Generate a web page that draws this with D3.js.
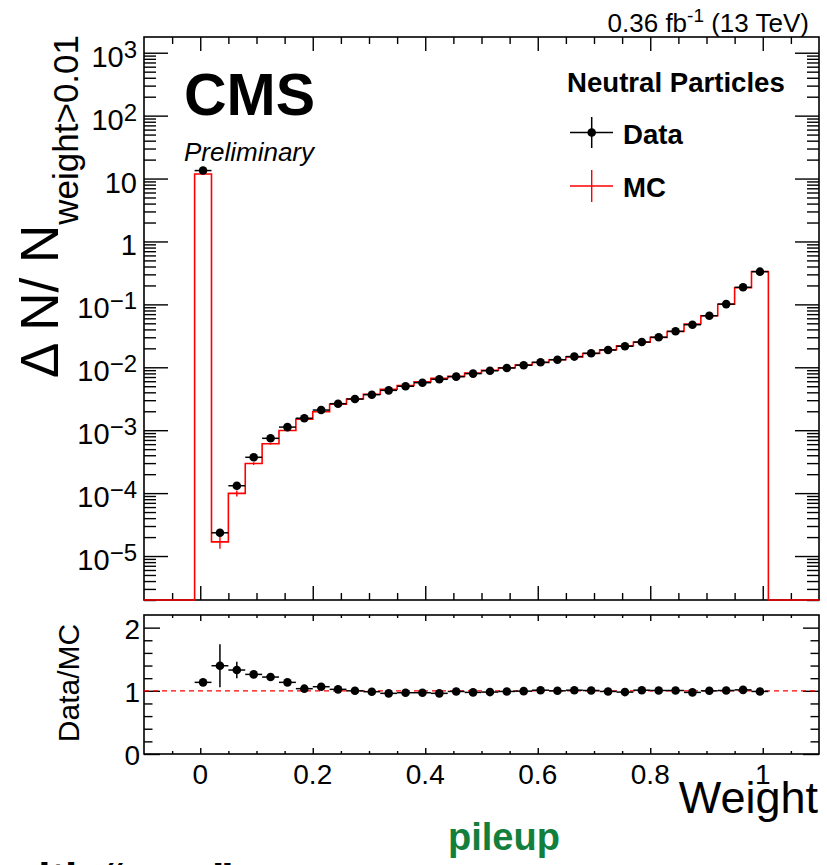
<!DOCTYPE html>
<html><head><meta charset="utf-8">
<script src="https://cdn.jsdelivr.net/npm/d3@7"></script>
<style>
body{margin:0;background:#fff}
svg{display:block}
text{font-family:"Liberation Sans",Arial,Helvetica,sans-serif}
</style>
</head><body><div id="chart"></div>
<script>
// ---------------- data ----------------
const binCenters = [0.005,0.035,0.065,0.095,0.125,0.155,0.185,0.215,0.245,0.275,0.305,0.335,0.365,0.395,0.425,0.455,0.485,0.515,0.545,0.575,0.605,0.635,0.665,0.695,0.725,0.755,0.785,0.815,0.845,0.875,0.905,0.935,0.965,0.995];
const binWidth = 0.03;
const dataVals = [13.4,2.34e-5,1.31e-4,3.71e-4,7.43e-4,1.12e-3,1.55e-3,2.09e-3,2.64e-3,3.13e-3,3.67e-3,4.30e-3,4.99e-3,5.69e-3,6.44e-3,7.10e-3,7.93e-3,8.80e-3,9.75e-3,1.08e-2,1.20e-2,1.32e-2,1.48e-2,1.67e-2,1.88e-2,2.16e-2,2.52e-2,3.00e-2,3.73e-2,4.75e-2,6.60e-2,0.101,0.187,0.331];
const dataErrRel = [0.003,0.10,0.04,0.02,0.015,0.01,0.01,0.01,0.008,0.008,0.006,0.006,0.006,0.005,0.005,0.005,0.005,0.005,0.005,0.005,0.005,0.005,0.005,0.005,0.005,0.005,0.005,0.005,0.005,0.005,0.005,0.005,0.005,0.005];
const mcVals = [11.8,1.68e-5,9.9e-5,2.95e-4,6.1e-4,9.9e-4,1.50e-3,1.96e-3,2.58e-3,3.13e-3,3.72e-3,4.48e-3,5.14e-3,5.87e-3,6.71e-3,7.17e-3,8.13e-3,8.98e-3,9.85e-3,1.085e-2,1.19e-2,1.32e-2,1.465e-2,1.66e-2,1.90e-2,2.20e-2,2.50e-2,2.99e-2,3.71e-2,4.87e-2,6.60e-2,0.1005,0.184,0.334];
const mcErrRel = [0.005,0.22,0.11,0.05,0.03,0.02,0.015,0.01,0.01,0.008,0.008,0.006,0.006,0.005,0.005,0.005,0.005,0.005,0.005,0.005,0.005,0.005,0.005,0.005,0.005,0.005,0.005,0.005,0.005,0.005,0.005,0.005,0.005,0.005];
const ratioVals = [1.134,1.397,1.329,1.26,1.218,1.134,1.034,1.065,1.023,1.0,0.986,0.96,0.97,0.97,0.96,0.99,0.975,0.98,0.99,0.995,1.01,1.0,1.01,1.005,0.99,0.98,1.01,1.005,1.005,0.975,1.0,1.005,1.015,0.99];
const ratioErr = [0.01,0.34,0.13,0.06,0.04,0.03,0.02,0.02,0.015,0.012,0.012,0.01,0.01,0.01,0.01,0.01,0.01,0.01,0.01,0.01,0.01,0.01,0.01,0.01,0.01,0.01,0.01,0.01,0.01,0.01,0.01,0.01,0.01,0.01];
const xMajorTicks = [0,0.2,0.4,0.6,0.8,1];
const xTickLabels = ["0","0.2","0.4","0.6","0.8","1"];
const xMinorTicks = [-0.05,0.05,0.1,0.15,0.25,0.3,0.35,0.45,0.5,0.55,0.65,0.7,0.75,0.85,0.9,0.95,1.05];
const yDecades = [-5,-4,-3,-2,-1,0,1,2,3];
const ratioMajor = [0,1,2];
const ratioMinor = [0.2,0.4,0.6,0.8,1.2,1.4,1.6,1.8];

// ---------------- layout ----------------
const W = 827, H = 865;
const L = 144, R = 819, mainT = 37, mainB = 600, ratT = 615, ratB = 754;

const svg = d3.select("#chart").append("svg").attr("width", W).attr("height", H);

const x = d3.scaleLinear().domain([-0.1, 1.1]).range([L, R]);
const y = d3.scaleLog().domain([2e-6, 1778]).range([mainB, mainT]);
const yr = d3.scaleLinear().domain([0, 2.2]).range([ratB, ratT]);

function styleAxis(g){
  g.select(".domain").remove();
  g.selectAll(".tick line").attr("stroke","#000").attr("stroke-width",1.4);
  g.selectAll(".tick text").remove();
}

// ---------------- main panel ----------------
const yMinor = [];
yDecades.forEach(d=>{ for(let k=2;k<=9;k++){ const v=k*Math.pow(10,d-1); if(v>=2e-6 && v<=1778) yMinor.push(v);} });
svg.append("g").attr("transform",`translate(0,${mainB})`).call(d3.axisBottom(x).tickValues(xMajorTicks).tickSize(-14)).call(styleAxis);
svg.append("g").attr("transform",`translate(0,${mainB})`).call(d3.axisBottom(x).tickValues(xMinorTicks).tickSize(-7)).call(styleAxis);
svg.append("g").attr("transform",`translate(0,${mainT})`).call(d3.axisTop(x).tickValues(xMajorTicks).tickSize(-14)).call(styleAxis);
svg.append("g").attr("transform",`translate(0,${mainT})`).call(d3.axisTop(x).tickValues(xMinorTicks).tickSize(-7)).call(styleAxis);
const decVals = yDecades.map(d=>Math.pow(10,d));
svg.append("g").attr("transform",`translate(${L},0)`).call(d3.axisLeft(y).tickValues(decVals).tickSize(-24)).call(styleAxis);
svg.append("g").attr("transform",`translate(${L},0)`).call(d3.axisLeft(y).tickValues(yMinor).tickSize(-12)).call(styleAxis);
svg.append("g").attr("transform",`translate(${R},0)`).call(d3.axisRight(y).tickValues(decVals).tickSize(-24)).call(styleAxis);
svg.append("g").attr("transform",`translate(${R},0)`).call(d3.axisRight(y).tickValues(yMinor).tickSize(-12)).call(styleAxis);

svg.append("rect").attr("x",L).attr("y",mainT).attr("width",R-L).attr("height",mainB-mainT)
  .attr("fill","none").attr("stroke","#000").attr("stroke-width",1.6);

// histogram (MC)
const histPts = [[-0.1, null]];
binCenters.forEach((c,i)=>{
  if(i===0) histPts.push([c-binWidth/2, null]);
  histPts.push([c-binWidth/2, mcVals[i]]);
  histPts.push([c+binWidth/2, mcVals[i]]);
});
histPts.push([binCenters[binCenters.length-1]+binWidth/2, null]);
histPts.push([1.1, null]);
const histLine = d3.line().x(d=>x(d[0])).y(d=> d[1]===null ? mainB : y(d[1]));
svg.append("path").attr("d", histLine(histPts)).attr("fill","none")
  .attr("stroke","#ff0000").attr("stroke-width",1.6);

svg.append("g").selectAll("line").data(binCenters).join("line")
  .attr("x1",d=>x(d)).attr("x2",d=>x(d))
  .attr("y1",(d,i)=>y(mcVals[i]*(1+mcErrRel[i])))
  .attr("y2",(d,i)=>y(mcVals[i]*(1-mcErrRel[i])))
  .attr("stroke","#ff0000").attr("stroke-width",1.4);

const dg = svg.append("g");
dg.selectAll("line.h").data(binCenters).join("line").attr("class","h")
  .attr("x1",d=>x(d-binWidth/2)).attr("x2",d=>x(d+binWidth/2))
  .attr("y1",(d,i)=>y(dataVals[i])).attr("y2",(d,i)=>y(dataVals[i]))
  .attr("stroke","#000").attr("stroke-width",1.5);
dg.selectAll("line.v").data(binCenters).join("line").attr("class","v")
  .attr("x1",d=>x(d)).attr("x2",d=>x(d))
  .attr("y1",(d,i)=>y(dataVals[i]*(1+dataErrRel[i])))
  .attr("y2",(d,i)=>y(dataVals[i]*(1-dataErrRel[i])))
  .attr("stroke","#000").attr("stroke-width",1.5);
dg.selectAll("circle").data(binCenters).join("circle")
  .attr("cx",d=>x(d)).attr("cy",(d,i)=>y(dataVals[i])).attr("r",4.3).attr("fill","#000");

const yl = svg.append("g").attr("font-size",29).attr("text-anchor","end");
yDecades.forEach(d=>{
  const t = yl.append("text").attr("x",137).attr("y", y(Math.pow(10,d))+14);
  if(d===0){ t.text("1"); }
  else if(d===1){ t.text("10"); }
  else {
    t.append("tspan").text("10");
    t.append("tspan").attr("font-size",24).attr("dy",-9).text(d<0 ? "\u2212"+(-d) : String(d));
  }
});

const yt = svg.append("text").attr("transform",`translate(58,35) rotate(-90)`)
  .attr("text-anchor","end").attr("font-size",53);
yt.append("tspan").text("\u0394 N/ N");
yt.append("tspan").attr("font-size",35).attr("dy",20).text("weight>0.01");

svg.append("text").attr("x",184).attr("y",115).attr("font-size",59).attr("font-weight","bold").text("CMS");
svg.append("text").attr("x",184).attr("y",161).attr("font-size",26).attr("font-style","italic").text("Preliminary");
const lumi = svg.append("text").attr("x",809).attr("y",32).attr("font-size",26).attr("text-anchor","end");
lumi.append("tspan").text("0.36 fb");
lumi.append("tspan").attr("font-size",19).attr("dy",-10).text("-1");
lumi.append("tspan").attr("dy",10).text(" (13 TeV)");

svg.append("text").attr("x",567).attr("y",92).attr("font-size",27.6).attr("font-weight","bold").text("Neutral Particles");
const lg = svg.append("g");
lg.append("line").attr("x1",570).attr("x2",613).attr("y1",132.5).attr("y2",132.5).attr("stroke","#000").attr("stroke-width",1.5);
lg.append("line").attr("x1",591.7).attr("x2",591.7).attr("y1",117).attr("y2",148).attr("stroke","#000").attr("stroke-width",1.5);
lg.append("circle").attr("cx",591.7).attr("cy",132.5).attr("r",4.3).attr("fill","#000");
lg.append("text").attr("x",623).attr("y",143.5).attr("font-size",27.6).attr("font-weight","bold").text("Data");
lg.append("line").attr("x1",570).attr("x2",613).attr("y1",186).attr("y2",186).attr("stroke","#ff0000").attr("stroke-width",1.4);
lg.append("line").attr("x1",591.7).attr("x2",591.7).attr("y1",170).attr("y2",202).attr("stroke","#ff0000").attr("stroke-width",1.4);
lg.append("text").attr("x",623).attr("y",196.5).attr("font-size",27.6).attr("font-weight","bold").text("MC");

// ---------------- ratio panel ----------------
svg.append("g").attr("transform",`translate(0,${ratB})`).call(d3.axisBottom(x).tickValues(xMajorTicks).tickSize(-6)).call(styleAxis);
svg.append("g").attr("transform",`translate(0,${ratB})`).call(d3.axisBottom(x).tickValues(xMinorTicks).tickSize(-3)).call(styleAxis);
svg.append("g").attr("transform",`translate(0,${ratT})`).call(d3.axisTop(x).tickValues(xMajorTicks).tickSize(-6)).call(styleAxis);
svg.append("g").attr("transform",`translate(0,${ratT})`).call(d3.axisTop(x).tickValues(xMinorTicks).tickSize(-3)).call(styleAxis);
svg.append("g").attr("transform",`translate(${L},0)`).call(d3.axisLeft(yr).tickValues(ratioMajor).tickSize(-16)).call(styleAxis);
svg.append("g").attr("transform",`translate(${L},0)`).call(d3.axisLeft(yr).tickValues(ratioMinor).tickSize(-8.5)).call(styleAxis);
svg.append("g").attr("transform",`translate(${R},0)`).call(d3.axisRight(yr).tickValues(ratioMajor).tickSize(-16)).call(styleAxis);
svg.append("g").attr("transform",`translate(${R},0)`).call(d3.axisRight(yr).tickValues(ratioMinor).tickSize(-8.5)).call(styleAxis);

svg.append("rect").attr("x",L).attr("y",ratT).attr("width",R-L).attr("height",ratB-ratT)
  .attr("fill","none").attr("stroke","#000").attr("stroke-width",1.6);

svg.append("line").attr("x1",L).attr("x2",R).attr("y1",yr(1)).attr("y2",yr(1))
  .attr("stroke","#ff0000").attr("stroke-width",1.2).attr("stroke-dasharray","5,4");

const rg = svg.append("g");
rg.selectAll("line.h").data(binCenters).join("line").attr("class","h")
  .attr("x1",d=>x(d-binWidth/2)).attr("x2",d=>x(d+binWidth/2))
  .attr("y1",(d,i)=>yr(ratioVals[i])).attr("y2",(d,i)=>yr(ratioVals[i]))
  .attr("stroke","#000").attr("stroke-width",1.5);
rg.selectAll("line.v").data(binCenters).join("line").attr("class","v")
  .attr("x1",d=>x(d)).attr("x2",d=>x(d))
  .attr("y1",(d,i)=>yr(ratioVals[i]+ratioErr[i])).attr("y2",(d,i)=>yr(ratioVals[i]-ratioErr[i]))
  .attr("stroke","#000").attr("stroke-width",1.5);
rg.selectAll("circle").data(binCenters).join("circle")
  .attr("cx",d=>x(d)).attr("cy",(d,i)=>yr(ratioVals[i])).attr("r",4.3).attr("fill","#000");

svg.append("g").attr("font-size",28).attr("text-anchor","end").selectAll("text").data(ratioMajor).join("text")
  .attr("x",140).attr("y",d=>yr(d)+11).text(d=>String(d));
svg.append("g").attr("font-size",28).attr("text-anchor","middle").selectAll("text").data(xMajorTicks).join("text")
  .attr("x",d=>x(d)).attr("y",784).text((d,i)=>xTickLabels[i]);

svg.append("text").attr("transform",`translate(79,683) rotate(-90)`).attr("text-anchor","middle")
  .attr("font-size",30).text("Data/MC");
svg.append("text").attr("x",818).attr("y",813).attr("text-anchor","end").attr("font-size",45).text("Weight");

// slide annotations
svg.append("text").attr("x",504).attr("y",850).attr("text-anchor","middle")
  .attr("font-family","Lato, 'Open Sans', sans-serif").attr("font-weight","bold")
  .attr("font-size",38).attr("fill","#12803c").text("pileup");
svg.append("text").attr("x",4).attr("y",894)
  .attr("font-family","Lato, 'Open Sans', sans-serif").attr("font-weight","bold")
  .attr("font-size",44).attr("fill","#000").text("with \u201cnew\u201d");
</script>
</body></html>
